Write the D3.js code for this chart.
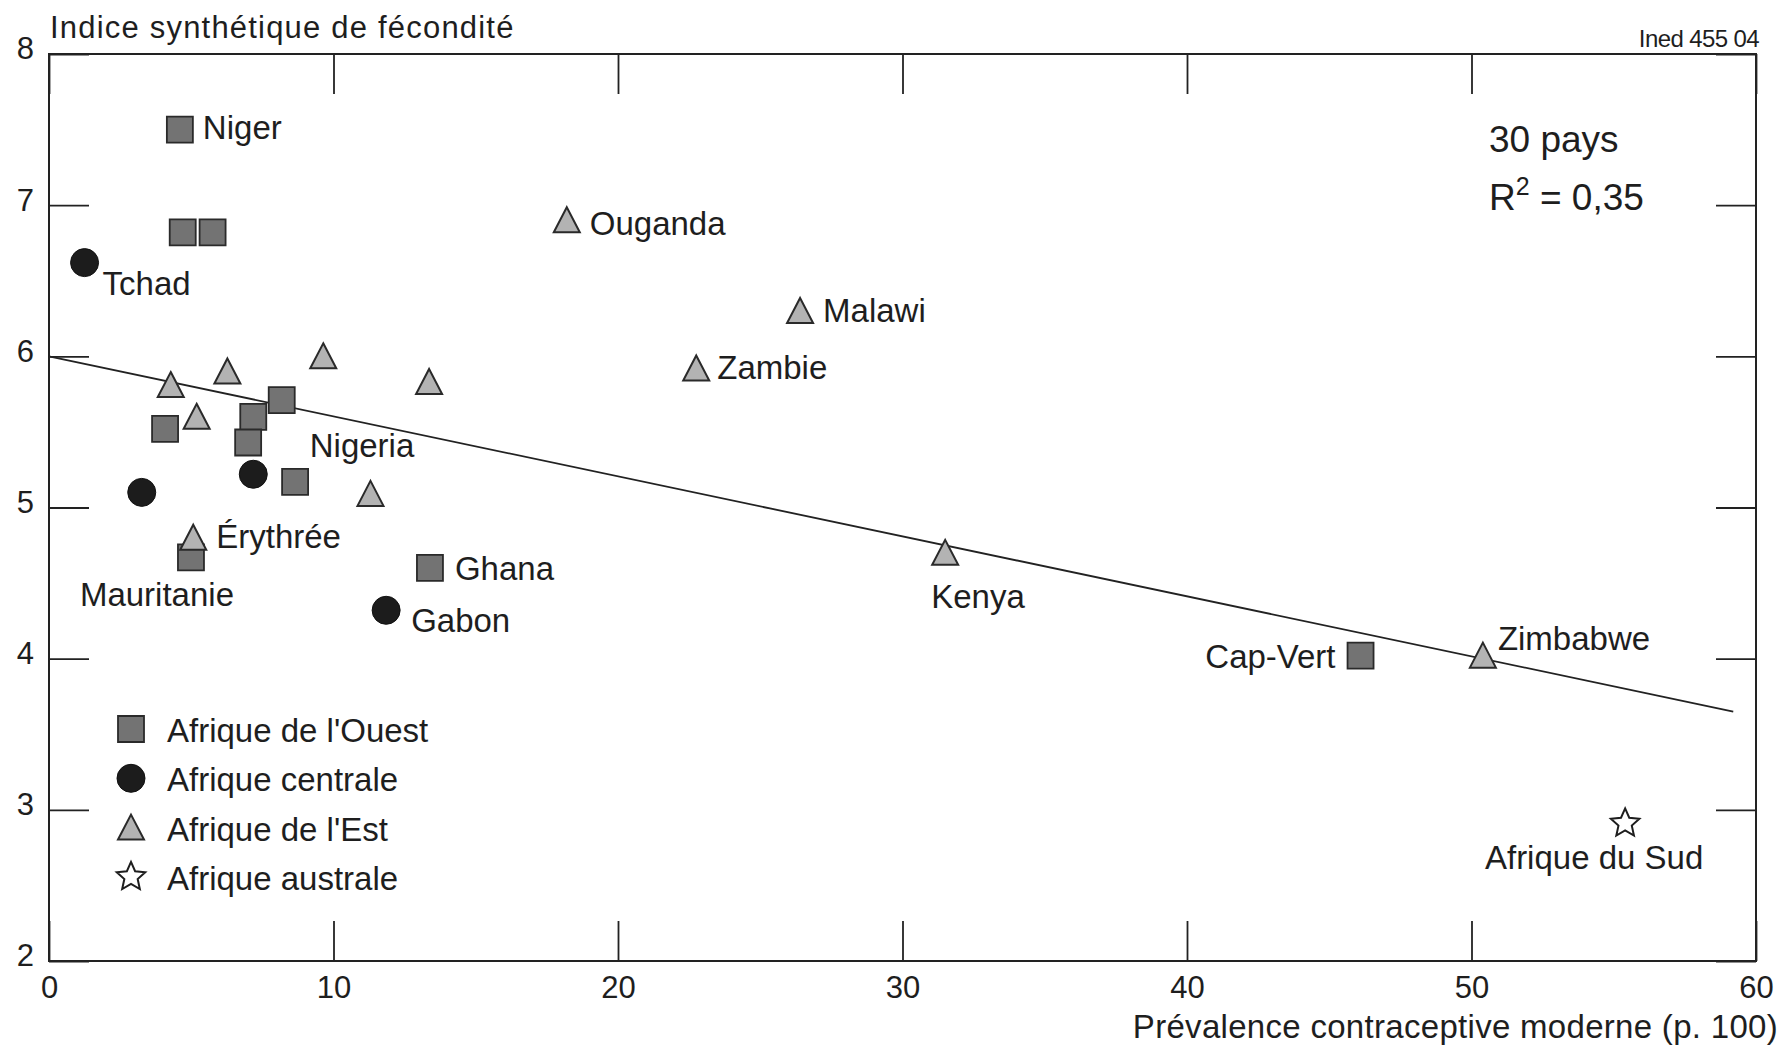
<!DOCTYPE html>
<html>
<head>
<meta charset="utf-8">
<script src="https://cdn.jsdelivr.net/npm/d3@7"></script>
<style>
  body { margin: 0; background: #fff; }
  svg { display: block; }
  text { font-family: "Liberation Sans", Arial, sans-serif; fill: #1e1e1e; }
</style>
</head>
<body>
<svg id="chart" width="1781" height="1047"></svg>
<script>
// ---------------- data ----------------
const regions = ["Afrique de l'Ouest", "Afrique centrale", "Afrique de l'Est", "Afrique australe"];

const countryNames = [
  "Niger", "", "", "Tchad", "Ouganda", "Malawi", "Zambie",
  "", "", "", "", "",
  "", "Nigeria", "", "", "", "", "", "",
  "Érythrée", "Mauritanie", "Ghana", "Gabon", "Kenya", "Cap-Vert", "Zimbabwe", "Afrique du Sud"
];
// index into regions
const countryRegion = [
  0, 0, 0, 1, 2, 2, 2,
  2, 2, 2, 2, 2,
  0, 0, 0, 0, 1, 0, 1, 2,
  2, 0, 0, 1, 2, 0, 2, 3
];
const prevalence = [
  4.6, 4.7, 5.75, 1.25, 18.2, 26.4, 22.75,
  4.28, 6.27, 9.64, 13.36, 5.19,
  4.08, 8.18, 7.18, 7.0, 7.18, 8.65, 3.26, 11.3,
  5.07, 4.99, 13.39, 11.85, 31.5, 46.1, 50.4, 55.4
];
const fertility = [
  7.5, 6.82, 6.82, 6.62, 6.9, 6.3, 5.92,
  5.81, 5.9, 6.0, 5.83, 5.6,
  5.52, 5.71, 5.6, 5.43, 5.22, 5.17, 5.1, 5.09,
  4.8, 4.67, 4.6, 4.32, 4.7, 4.02, 4.02, 2.91
];

const trendPrevalence = [0, 59.2];
const trendFertility = [6.0, 3.65];

const xTickValues = [0, 10, 20, 30, 40, 50, 60];
const yTickValues = [2, 3, 4, 5, 6, 7, 8];

const yTitle = "Indice synthétique de fécondité";
const xTitle = "Prévalence contraceptive moderne (p. 100)";
const sourceNote = "Ined 455 04";
const countNote = "30 pays";
const r2Value = "0,35";

// ---------------- layout (pixels, not data) ----------------
const labelLayout = {
  "Niger":          { dx: 23,  dy: 9,  anchor: "start" },
  "Tchad":          { dx: 18,  dy: 32, anchor: "start" },
  "Ouganda":        { dx: 23,  dy: 15, anchor: "start" },
  "Malawi":         { dx: 23,  dy: 11, anchor: "start" },
  "Zambie":         { dx: 21,  dy: 11, anchor: "start" },
  "Nigeria":        { dx: 28,  dy: 57, anchor: "start" },
  "Érythrée":       { dx: 23,  dy: 10, anchor: "start" },
  "Mauritanie":     { dx: -34, dy: 49, anchor: "middle" },
  "Ghana":          { dx: 25,  dy: 12, anchor: "start" },
  "Gabon":          { dx: 25,  dy: 22, anchor: "start" },
  "Kenya":          { dx: -14, dy: 55, anchor: "start" },
  "Cap-Vert":       { dx: -25, dy: 12, anchor: "end" },
  "Zimbabwe":       { dx: 15,  dy: -6, anchor: "start" },
  "Afrique du Sud": { dx: -31, dy: 46, anchor: "middle" }
};

const svg = d3.select("#chart");
const L = 49, R = 1756, T = 54, B = 961;
const x = d3.scaleLinear().domain([0, 60]).range([L, R]);
const y = d3.scaleLinear().domain([2, 8]).range([B, T]);
const ink = "#222";
const fmt = d3.format("d");

// ---------------- axes ----------------
const tickLen = 40;
const gB = svg.append("g").attr("transform", `translate(0,${B})`)
  .call(d3.axisBottom(x).tickValues(xTickValues).tickFormat(fmt).tickSize(-tickLen).tickPadding(15).tickSizeOuter(0));
const gT = svg.append("g").attr("transform", `translate(0,${T})`)
  .call(d3.axisTop(x).tickValues(xTickValues).tickSize(-tickLen).tickFormat("").tickSizeOuter(0));
const gL = svg.append("g").attr("transform", `translate(${L},0)`)
  .call(d3.axisLeft(y).tickValues(yTickValues).tickFormat(fmt).tickSize(-tickLen).tickPadding(15).tickSizeOuter(0));
const gR = svg.append("g").attr("transform", `translate(${R},0)`)
  .call(d3.axisRight(y).tickValues(yTickValues).tickSize(-tickLen).tickFormat("").tickSizeOuter(0));

[gB, gT, gL, gR].forEach(g => {
  g.select(".domain").remove();
  g.selectAll(".tick line").attr("stroke", ink).attr("stroke-width", 1.8);
  g.selectAll(".tick text").attr("fill", "#1e1e1e").style("font-size", "31px")
    .style("font-family", "'Liberation Sans', Arial, sans-serif");
});
gL.selectAll(".tick text").attr("dy", "0.16em");

// frame
svg.append("rect").attr("x", L).attr("y", T).attr("width", R - L).attr("height", B - T)
  .attr("fill", "none").attr("stroke", ink).attr("stroke-width", 2);

// titles
svg.append("text").attr("x", L + 1).attr("y", 38).style("font-size", "31px")
  .attr("letter-spacing", "1.2").text(yTitle);
svg.append("text").attr("x", 1778).attr("y", 1038).attr("text-anchor", "end")
  .style("font-size", "33px").attr("letter-spacing", "0.3").text(xTitle);
svg.append("text").attr("x", 1759).attr("y", 47).attr("text-anchor", "end")
  .style("font-size", "24px").attr("letter-spacing", "-0.6").text(sourceNote);

// annotation
svg.append("text").attr("x", 1489).attr("y", 152).style("font-size", "37px").text(countNote);
const r2 = svg.append("text").attr("x", 1489).attr("y", 210).style("font-size", "37px");
r2.append("tspan").text("R");
r2.append("tspan").attr("dy", -15).style("font-size", "25px").text("2");
r2.append("tspan").attr("dy", 15).text(" = " + r2Value);

// ---------------- regression line ----------------
const trend = trendPrevalence.map((v, i) => [v, trendFertility[i]]);
svg.append("path").datum(trend)
  .attr("d", d3.line().x(d => x(d[0])).y(d => y(d[1])))
  .attr("fill", "none").attr("stroke", ink).attr("stroke-width", 1.8);

// ---------------- markers ----------------
function starPath(ro, ri) {
  const pts = [];
  for (let k = 0; k < 10; k++) {
    const r = k % 2 === 0 ? ro : ri;
    const a = -Math.PI / 2 + k * Math.PI / 5;
    pts.push([r * Math.cos(a), r * Math.sin(a)]);
  }
  return "M" + pts.map(p => p.join(",")).join("L") + "Z";
}
const markerStyle = [
  { d: "M-13,-13H13V13H-13Z", fill: "#737373", stroke: "#2a2a2a", sw: 1.8 },
  { d: d3.symbol(d3.symbolCircle, Math.PI * 14 * 14)(), fill: "#1c1c1c", stroke: "#111", sw: 1 },
  { d: "M0,-13L13,12L-13,12Z", fill: "#b3b3b3", stroke: "#2a2a2a", sw: 2 },
  { d: starPath(15, 7), fill: "#fff", stroke: "#1e1e1e", sw: 2 }
];

const pts = prevalence.map((v, i) => ({
  name: countryNames[i], region: countryRegion[i], px: v, py: fertility[i]
}));
// draw order: squares, circles, triangles, star
const order = pts.slice().sort((a, b) => a.region - b.region);
svg.append("g").selectAll("path").data(order).join("path")
  .attr("transform", d => `translate(${x(d.px)},${y(d.py)})`)
  .attr("d", d => markerStyle[d.region].d)
  .attr("fill", d => markerStyle[d.region].fill)
  .attr("stroke", d => markerStyle[d.region].stroke)
  .attr("stroke-width", d => markerStyle[d.region].sw);

// labels
svg.append("g").selectAll("text").data(pts.filter(d => d.name)).join("text")
  .attr("x", d => x(d.px) + labelLayout[d.name].dx)
  .attr("y", d => y(d.py) + labelLayout[d.name].dy)
  .attr("text-anchor", d => labelLayout[d.name].anchor)
  .style("font-size", "33px")
  .text(d => d.name);

// ---------------- legend ----------------
const leg = svg.append("g").attr("transform", "translate(131,729)");
const legItems = leg.selectAll("g").data(regions).join("g")
  .attr("transform", (d, i) => `translate(0,${i * 49.3})`);
legItems.append("path")
  .attr("d", (d, i) => markerStyle[i].d)
  .attr("fill", (d, i) => markerStyle[i].fill)
  .attr("stroke", (d, i) => markerStyle[i].stroke)
  .attr("stroke-width", (d, i) => markerStyle[i].sw);
legItems.append("text").attr("x", 36).attr("y", 13).style("font-size", "33px").text(d => d);
</script>
</body>
</html>
